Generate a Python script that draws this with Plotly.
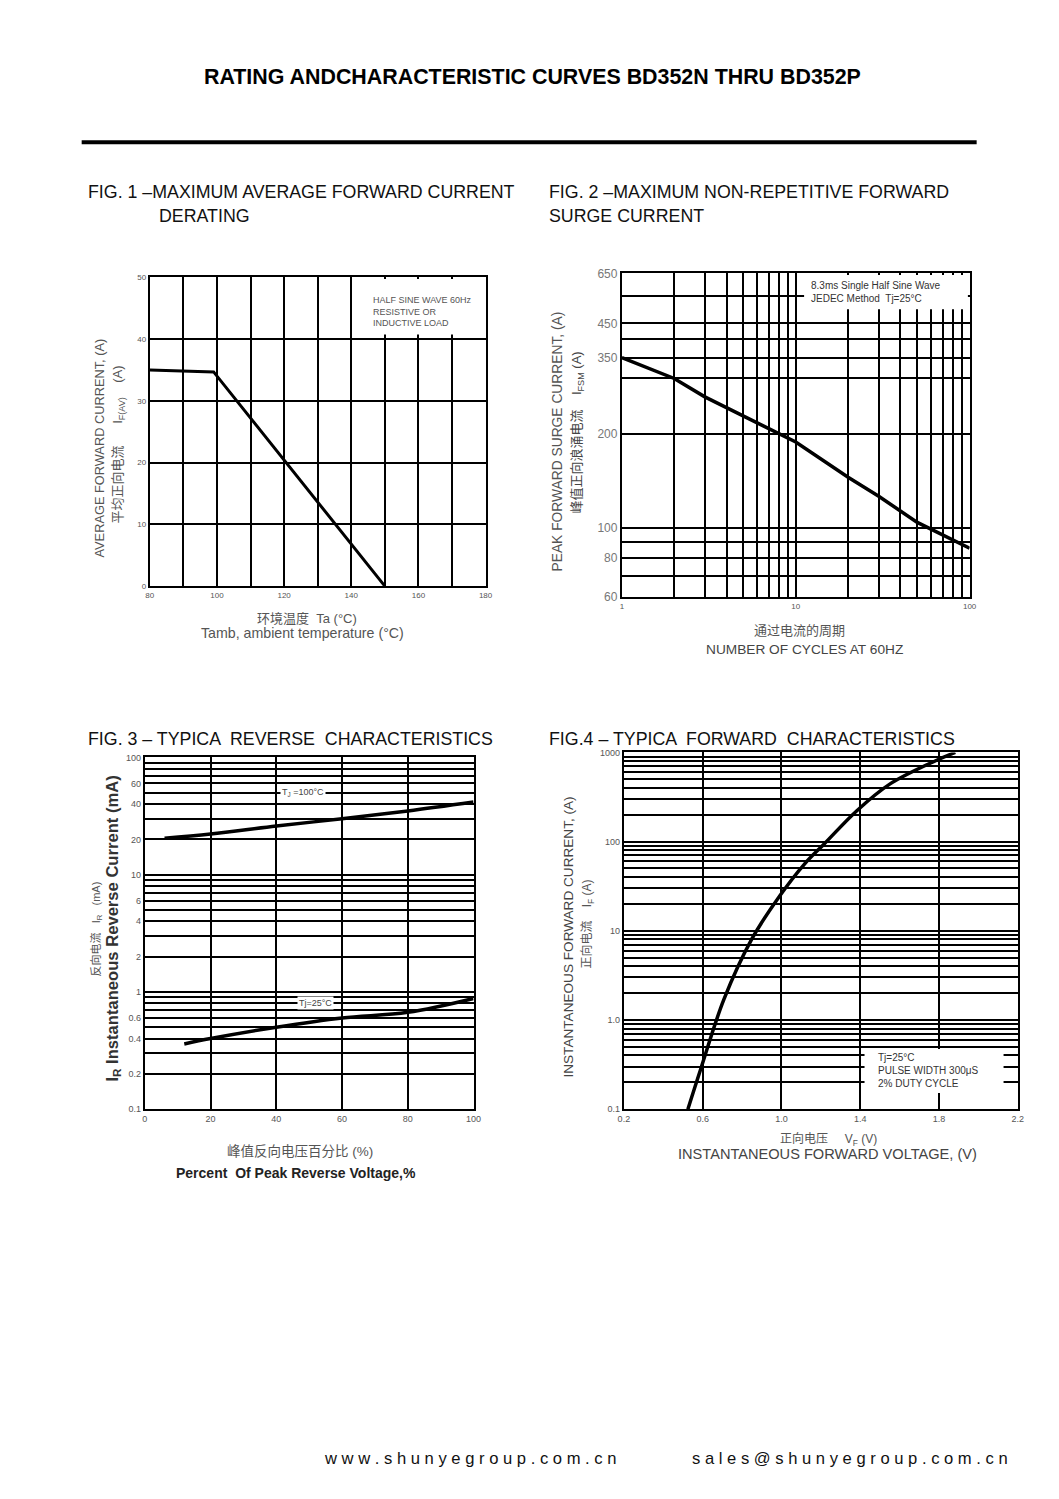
import numpy as np
import plotly.graph_objects as go

PAGE_W, PAGE_H = 1059, 1499
BODY_MARGIN = 8
W, H = PAGE_W - 2 * BODY_MARGIN, PAGE_H - 2 * BODY_MARGIN
# measured correction between requested page pixels and the photographed picture
SX, OX = 0.9844, 6.6
SY, OY = 0.9885, 8.2
FONT = "Liberation Sans, Arial, Noto Sans CJK SC, sans-serif"

# ---------------- data ----------------
# Fig 1: derating
f1_temp = [80, 99, 150]
f1_current = [35, 34.7, 0]
f1_xticks = [80, 100, 120, 140, 160, 180]
f1_xlabels = ["80", "100", "120", "140", "160", "180"]
f1_xgrid = [90, 110, 130, 150, 170]
f1_yticks = [0, 10, 20, 30, 40, 50]
f1_ylabels = ["0", "10", "20", "30", "40", "50"]
f1_ygrid = []

# Fig 2: surge current
f2_cycles = [1, 2, 3, 5, 8, 10, 20, 30, 50, 100]
f2_current = [350, 300, 262, 228, 200, 188, 145, 126, 104, 86]
f2_xticks = [1, 10, 100]
f2_xlabels = ["1", "10", "100"]
f2_xgrid = [2, 3, 4, 5, 6, 7, 8, 9, 20, 30, 40, 50, 60, 70, 80, 90]
f2_yticks = [60, 80, 100, 200, 350, 450, 650]
f2_ylabels = ["60", "80", "100", "200", "350", "450", "650"]
f2_ygrid = [70, 90, 300, 400, 550]

# Fig 3: reverse characteristics
f3_pct_100 = [6, 20, 40, 60, 80, 100]
f3_ir_100 = [20.5, 22.2, 26, 30, 35, 41.7]
f3_pct_25 = [12, 20, 40, 60, 80, 100]
f3_ir_25 = [0.36, 0.40, 0.50, 0.60, 0.67, 0.88]
f3_xticks = [0, 20, 40, 60, 80, 100]
f3_xlabels = ["0", "20", "40", "60", "80", "100"]
f3_xgrid = []
f3_yticks = [0.1, 0.2, 0.4, 0.6, 1, 2, 4, 6, 10, 20, 40, 60, 100]
f3_ylabels = ["0.1", "0.2", "0.4", "0.6", "1", "2", "4", "6", "10", "20", "40", "60", "100"]
f3_ygrid = [0.3, 0.5, 0.7, 0.8, 0.9, 3, 5, 7, 8, 9, 30, 50, 70, 80, 90]

# Fig 4: forward characteristics
f4_vf = [0.525, 0.592, 0.708, 0.85, 0.992, 1.117, 1.217, 1.383, 1.55, 1.783, 1.883]
f4_if = [0.1, 0.29, 1.7, 8.1, 24.7, 56, 94, 222, 441, 807, 1000]
f4_xticks = [0.2, 0.6, 1.0, 1.4, 1.8, 2.2]
f4_xlabels = ["0.2", "0.6", "1.0", "1.4", "1.8", "2.2"]
f4_xgrid = []
f4_yticks = [0.1, 1, 10, 100, 1000]
f4_ylabels = ["0.1", "1.0", "10", "100", "1000"]
f4_ygrid = [m * d for d in (0.1, 1, 10, 100) for m in range(2, 10)]


def px(x):
    return ((x - OX) / SX - BODY_MARGIN) / W


def py(y):
    return 1 - ((y - OY) / SY - BODY_MARGIN) / H


fig = go.Figure()

fig.add_trace(go.Scatter(x=f1_temp, y=f1_current, mode="lines",
                         line=dict(color="black", width=3), xaxis="x", yaxis="y"))
fig.add_trace(go.Scatter(x=f2_cycles, y=f2_current, mode="lines",
                         line=dict(color="black", width=3.5), xaxis="x2", yaxis="y2"))
fig.add_trace(go.Scatter(x=f3_pct_100, y=f3_ir_100, mode="lines",
                         line=dict(color="black", width=3.5, shape="spline"), xaxis="x3", yaxis="y3"))
fig.add_trace(go.Scatter(x=f3_pct_25, y=f3_ir_25, mode="lines",
                         line=dict(color="black", width=3.5, shape="spline"), xaxis="x3", yaxis="y3"))
fig.add_trace(go.Scatter(x=f4_vf, y=f4_if, mode="lines",
                         line=dict(color="black", width=3.5, shape="spline"), xaxis="x4", yaxis="y4"))


def axis(domain, tickvals, ticktext, grid, rng, anchor, typ="linear", size=8, color="#555"):
    d = dict(domain=domain, tickmode="array", tickvals=tickvals, ticktext=ticktext,
             range=rng, type=typ, anchor=anchor, showgrid=True, gridcolor="black",
             gridwidth=2, showline=True, linecolor="black", linewidth=2, mirror=True,
             ticks="", zeroline=False, fixedrange=True,
             tickfont=dict(family=FONT, size=size, color=color))
    if grid:
        d["minor"] = dict(tickmode="array", tickvals=grid, showgrid=True, gridcolor="black",
                          gridwidth=2, ticks="")
    return d


fig.update_layout(
    width=W, height=H, margin=dict(l=0, r=0, t=0, b=0),
    paper_bgcolor="white", plot_bgcolor="white", showlegend=False,
    font=dict(family=FONT),
    xaxis=axis([px(150), px(485)], f1_xticks, f1_xlabels, f1_xgrid, [80, 180], "y"),
    yaxis=axis([py(586), py(278)], f1_yticks, f1_ylabels, f1_ygrid, [0, 50], "x"),
    xaxis2=axis([px(621), px(968)], f2_xticks, f2_xlabels, f2_xgrid, [0, 2], "y2", "log"),
    yaxis2=axis([py(597), py(274)], f2_yticks, f2_ylabels, f2_ygrid,
                [np.log10(60), np.log10(650)], "x2", "log", size=12, color="#777"),
    xaxis3=axis([px(145), px(473)], f3_xticks, f3_xlabels, f3_xgrid, [0, 100], "y3", size=9),
    yaxis3=axis([py(1108), py(757)], f3_yticks, f3_ylabels, f3_ygrid, [-1, 2], "x3", "log", size=9),
    xaxis4=axis([px(623), px(1016)], f4_xticks, f4_xlabels, f4_xgrid, [0.2, 2.2], "y4", size=9),
    yaxis4=axis([py(1108), py(752)], f4_yticks, f4_ylabels, f4_ygrid, [-1, 3], "x4", "log", size=9),
)

shapes = [
    dict(type="line", xref="paper", yref="paper", x0=px(82), x1=px(975), y0=py(143), y1=py(143),
         line=dict(color="black", width=4)),
    # white legend boxes inside the plots
    dict(type="rect", xref="x domain", yref="y domain", x0=0.627, x1=0.995, y0=0.815, y1=0.995,
         fillcolor="white", line=dict(width=0), layer="above"),
    dict(type="rect", xref="x2 domain", yref="y2 domain", x0=0.524, x1=0.995, y0=0.889, y1=0.995,
         fillcolor="white", line=dict(width=0), layer="above"),
    dict(type="rect", xref="x4 domain", yref="y4 domain", x0=0.611, x1=0.964, y0=0.045, y1=0.169,
         fillcolor="white", line=dict(width=0), layer="above"),
]
fig.update_layout(shapes=shapes)

ann = []


def text(x, y, s, size=13, color="#333", xanchor="center", yanchor="middle", angle=0,
         bold=False, xref="paper", yref="paper", align="center", bg=None):
    d = dict(x=x, y=y, xref=xref, yref=yref, text=("<b>%s</b>" % s) if bold else s,
             showarrow=False, xanchor=xanchor, yanchor=yanchor, textangle=angle, align=align,
             font=dict(family=FONT, size=size, color=color))
    if bg:
        d["bgcolor"] = bg
        d["borderpad"] = 1
    ann.append(d)


# page title and captions
text(px(532), py(78), "RATING ANDCHARACTERISTIC CURVES BD352N THRU BD352P", size=21.4, color="black", bold=True)
text(px(86), py(193), "FIG. 1 –MAXIMUM AVERAGE FORWARD CURRENT", size=17.8, color="#111", xanchor="left")
text(px(157), py(217), "DERATING", size=17.8, color="#111", xanchor="left")
text(px(546), py(193), "FIG. 2 –MAXIMUM NON-REPETITIVE FORWARD", size=17.8, color="#111", xanchor="left")
text(px(546), py(217), "SURGE CURRENT", size=17.8, color="#111", xanchor="left")
text(px(86), py(739), "FIG. 3 – TYPICA  REVERSE  CHARACTERISTICS", size=17.8, color="#111", xanchor="left")
text(px(546), py(739), "FIG.4 – TYPICA  FORWARD  CHARACTERISTICS", size=17.8, color="#111", xanchor="left")
text(px(322), py(1457), "w w w . s h u n y e g r o u p . c o m . c n", size=16.6, color="#111", xanchor="left")
text(px(689), py(1457), "s a l e s @ s h u n y e g r o u p . c o m . c n", size=16.6, color="#111", xanchor="left")

# Fig 1 titles
text(px(100), py(448), "AVERAGE FORWARD CURRENT, (A)", size=12.8, color="#555", angle=-90)
text(px(119), py(445), "平均正向电流      I<sub>F(AV)</sub>    (A)", size=13, color="#555", angle=-90)
text(px(307), py(618), "环境温度  Ta (°C)", size=13, color="#555")
text(px(302), py(633), "Tamb, ambient temperature (°C)", size=14.2, color="#555")
text(0.66, 0.948, "HALF SINE WAVE 60Hz<br>RESISTIVE OR<br>INDUCTIVE LOAD", size=9, color="#555",
     xanchor="left", yanchor="top", xref="x domain", yref="y domain", align="left")

# Fig 2 titles
text(px(557), py(442), "PEAK FORWARD SURGE CURRENT, (A)", size=13.8, color="#555", angle=-90)
text(px(577), py(433), "峰值正向浪涌电流    I<sub>FSM</sub> (A)", size=13, color="#444", angle=-90)
text(px(798), py(630), "通过电流的周期", size=13, color="#555")
text(px(803), py(649), "NUMBER OF CYCLES AT 60HZ", size=13.7, color="#444")
text(0.539, 0.985, "8.3ms Single Half Sine Wave<br>JEDEC Method  Tj=25°C", size=10, color="#333",
     xanchor="left", yanchor="top", xref="x2 domain", yref="y2 domain", align="left")

# Fig 3 titles
text(px(97), py(928), "反向电流   I<sub>R</sub>   (mA)", size=11, color="#555", angle=-90)
text(px(113), py(928), "I<sub>R</sub> Instantaneous Reverse Current (mA)", size=16.6, color="#333", angle=-90, bold=True)
text(px(300), py(1150), "峰值反向电压百分比 (%)", size=13.5, color="#555")
text(px(296), py(1172), "Percent  Of Peak Reverse Voltage,%", size=14, color="#222", bold=True)
text(0.48, 0.9, "T<sub>J</sub> =100°C", size=9, color="#444", xref="x3 domain", yref="y3 domain", bg="white")
text(0.52, 0.301, "Tj=25°C", size=9, color="#444", xref="x3 domain", yref="y3 domain", bg="white")

# Fig 4 titles
text(px(568), py(936), "INSTANTANEOUS FORWARD CURRENT, (A)", size=13.6, color="#444", angle=-90)
text(px(587), py(923), "正向电流    I<sub>F</sub> (A)", size=12, color="#555", angle=-90)
text(px(827), py(1138), "正向电压     V<sub>F</sub> (V)", size=12, color="#555")
text(px(826), py(1153), "INSTANTANEOUS FORWARD VOLTAGE, (V)", size=14.6, color="#444")
text(0.641, 0.107, "Tj=25°C<br>PULSE WIDTH 300μS<br>2% DUTY CYCLE", size=10, color="#333",
     xanchor="left", yanchor="middle", xref="x4 domain", yref="y4 domain", align="left")

fig.update_layout(annotations=ann)

fig.write_html("out.html", config={"displayModeBar": False})
